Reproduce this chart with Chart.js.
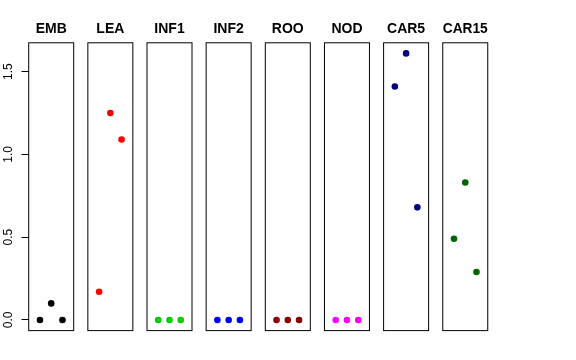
<!DOCTYPE html>
<html>
<head>
<meta charset="utf-8">
<script src="https://cdn.jsdelivr.net/npm/chart.js@4/dist/chart.umd.min.js"></script>
<style>
  html, body { margin: 0; padding: 0; background: #ffffff; }
  #wrap { position: relative; width: 576px; height: 360px; background: #ffffff; overflow: hidden; }
  #wrap canvas { position: absolute; left: 0; top: 0; }
</style>
</head>
<body>
<div id="wrap"></div>
<script>
// ---- data ----
const categories = ['EMB', 'LEA', 'INF1', 'INF2', 'ROO', 'NOD', 'CAR5', 'CAR15'];
const xPositions = [1, 2, 3];
const embValues  = [0, 0.10, 0];
const leaValues  = [0.17, 1.25, 1.09];
const inf1Values = [0, 0, 0];
const inf2Values = [0, 0, 0];
const rooValues  = [0, 0, 0];
const nodValues  = [0, 0, 0];
const car5Values = [1.41, 1.61, 0.68];
const car15Values = [0.49, 0.83, 0.29];
const yTickValues = [0, 0.5, 1.0, 1.5];
const yTickLabels = ['0.0', '0.5', '1.0', '1.5'];

const seriesValues = [embValues, leaValues, inf1Values, inf2Values, rooValues, nodValues, car5Values, car15Values];
const seriesColors = ['#000000', '#FF0000', '#00CD00', '#0000FF', '#8B0000', '#FF00FF', '#000080', '#006400'];

// ---- layout ----
const W = 576, H = 360;
const firstLeft = 28.7, panelWidth = 45, panelPitch = 59.15;
const plotTop = 42.8, plotBottom = 330.6;
const yMin = -0.0644, yMax = 1.674;
const FONT = '"Liberation Sans", Arial, Helvetica, sans-serif';

const boxPlugin = {
  id: 'panelBox',
  afterDatasetsDraw(chart) {
    const a = chart.chartArea, ctx = chart.ctx;
    ctx.save();
    ctx.strokeStyle = '#000000';
    ctx.lineWidth = 1;
    ctx.strokeRect(a.left, a.top, a.right - a.left, a.bottom - a.top);
    ctx.restore();
  }
};

const yLabelPlugin = {
  id: 'yLabels',
  afterDraw(chart) {
    const s = chart.scales.y;
    if (!s.options.display) return;
    const ctx = chart.ctx;
    ctx.save();
    ctx.fillStyle = '#000000';
    ctx.font = '12px ' + FONT;
    ctx.textAlign = 'center';
    ctx.textBaseline = 'middle';
    s.ticks.forEach((t, i) => {
      const y = s.getPixelForValue(t.value);
      ctx.save();
      ctx.translate(8.8, y);
      ctx.rotate(-Math.PI / 2);
      ctx.fillText(yTickLabels[i], 0, 0);
      ctx.restore();
    });
    ctx.restore();
  }
};

Chart.defaults.font.family = FONT;

categories.forEach((cat, i) => {
  const canvas = document.createElement('canvas');
  canvas.width = W; canvas.height = H;
  canvas.style.width = W + 'px'; canvas.style.height = H + 'px';
  document.getElementById('wrap').appendChild(canvas);

  const left = firstLeft + i * panelPitch;
  const right = left + panelWidth;
  const isFirst = i === 0;

  new Chart(canvas, {
    type: 'scatter',
    data: {
      datasets: [{
        data: xPositions.map((x, k) => ({ x: x, y: seriesValues[i][k] })),
        backgroundColor: seriesColors[i],
        borderColor: seriesColors[i],
        pointRadius: 3.3,
        pointHoverRadius: 3.3,
        borderWidth: 0
      }]
    },
    options: {
      responsive: false,
      animation: false,
      devicePixelRatio: 1,
      events: [],
      layout: {
        padding: { left: isFirst ? 0 : left, right: W - right, top: 0, bottom: H - plotBottom }
      },
      plugins: {
        legend: { display: false },
        tooltip: { enabled: false },
        title: {
          display: true,
          text: cat,
          fullSize: false,
          color: '#000000',
          font: { size: 14, weight: 'bold', family: FONT, lineHeight: 1.2 },
          padding: { top: 21.1, bottom: plotTop - 21.1 - 16.8 }
        }
      },
      scales: {
        x: { type: 'linear', min: 0, max: 4, display: false },
        y: {
          type: 'linear',
          min: yMin, max: yMax,
          display: isFirst,
          afterBuildTicks(scale) { scale.ticks = yTickValues.map(v => ({ value: v })); },
          afterFit(scale) { if (scale.options.display) scale.width = firstLeft; },
          border: { display: false },
          grid: {
            display: true,
            drawOnChartArea: false,
            drawTicks: true,
            tickLength: 7.2,
            tickColor: '#000000',
            color: '#000000',
            lineWidth: 1
          },
          ticks: { display: false }
        }
      }
    },
    plugins: [boxPlugin, yLabelPlugin]
  });
});
</script>
</body>
</html>
